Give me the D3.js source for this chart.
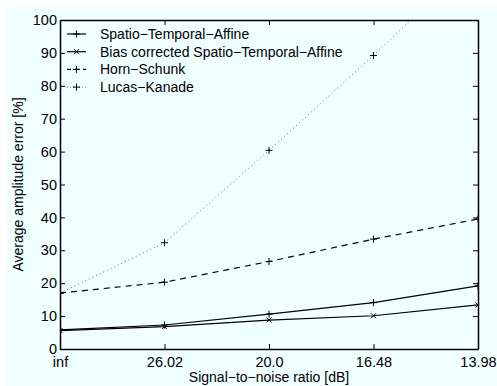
<!DOCTYPE html>
<html lang="en">
<head>
<meta charset="UTF-8">
<title>Average amplitude error</title>
<script src="https://cdn.jsdelivr.net/npm/d3@7"></script>
<style>
    body { margin: 0; background: #fff; }
    svg text { font-family: "Liberation Sans", Arial, sans-serif; fill: #000; }
</style>
</head>
<body>
<svg width="497" height="386"></svg>
<script>
    // data
    var snrLabels = ["inf", "26.02", "20.0", "16.48", "13.98"];
    var staValues = [5.8, 7.3, 10.6, 14.1, 19.2];
    var biasValues = [5.6, 6.8, 8.8, 10.1, 13.4];
    var hornValues = [17.0, 20.3, 26.6, 33.4, 39.5];
    var lucasValues = [17.0, 32.3, 60.4, 89.2, 119.5];
    var yTicks = [0, 10, 20, 30, 40, 50, 60, 70, 80, 90, 100];

    var series = [
        {name: "Spatio\u2212Temporal\u2212Affine", values: staValues, dash: null, marker: "plus"},
        {name: "Bias corrected Spatio\u2212Temporal\u2212Affine", values: biasValues, dash: null, marker: "cross"},
        {name: "Horn\u2212Schunk", values: hornValues, dash: "6,5", marker: "plus"},
        {name: "Lucas\u2212Kanade", values: lucasValues, dash: "1,3", marker: "plus"}
    ];

    var svg = d3.select("svg");
    svg.append("rect").attr("x", 7).attr("y", 7).attr("width", 490).attr("height", 379).attr("fill", "#f0ffff");

    var marge = {left: 60, right: 478, top: 20, bottom: 349};

    var x = d3.scalePoint().domain(snrLabels).range([marge.left, marge.right]);
    var y = d3.scaleLinear().domain([0, 100]).range([marge.bottom, marge.top]);

    svg.append("clipPath").attr("id", "clip").append("rect")
        .attr("x", marge.left).attr("y", marge.top)
        .attr("width", marge.right - marge.left).attr("height", marge.bottom - marge.top);

    // axes with inward ticks
    var tl = 5;
    var axLeft = svg.append("g").attr("transform", "translate(" + marge.left + ",0)")
        .call(d3.axisLeft(y).tickValues(yTicks).tickSizeInner(-tl).tickSizeOuter(0).tickPadding(3));
    var axBottom = svg.append("g").attr("transform", "translate(0," + marge.bottom + ")")
        .call(d3.axisBottom(x).tickSizeInner(-tl).tickSizeOuter(0).tickPadding(8));
    var axRight = svg.append("g").attr("transform", "translate(" + marge.right + ",0)")
        .call(d3.axisRight(y).tickValues(yTicks).tickSizeInner(-tl).tickSizeOuter(0).tickFormat(""));
    var axTop = svg.append("g").attr("transform", "translate(0," + marge.top + ")")
        .call(d3.axisTop(x).tickSizeInner(-tl).tickSizeOuter(0).tickFormat(""));

    [axLeft, axBottom, axRight, axTop].forEach(function (g) {
        g.selectAll("path").attr("stroke", "#000").attr("stroke-width", 1.5);
        g.selectAll("line").attr("stroke", "#000").attr("stroke-width", 1);
        g.selectAll("text").style("font-size", "14.5px").attr("fill", "#000");
    });

    function drawMarker(g, type, cx, cy) {
        var s = 3.5;
        var p = type === "plus"
            ? "M" + (cx - s) + "," + cy + "H" + (cx + s) + "M" + cx + "," + (cy - s) + "V" + (cy + s)
            : "M" + (cx - 2.5) + "," + (cy - 2.5) + "L" + (cx + 2.5) + "," + (cy + 2.5) +
              "M" + (cx - 2.5) + "," + (cy + 2.5) + "L" + (cx + 2.5) + "," + (cy - 2.5);
        g.append("path").attr("d", p).attr("stroke", "#000").attr("stroke-width", 1).attr("fill", "none");
    }

    var line = d3.line().x(function (d, i) { return x(snrLabels[i]); }).y(function (d) { return y(d); });
    var plot = svg.append("g").attr("clip-path", "url(#clip)");

    series.forEach(function (s) {
        var dotted = s.dash === "1,3";
        plot.append("path").datum(s.values)
            .attr("d", line)
            .attr("fill", "none")
            .attr("stroke", dotted ? "#666" : "#000")
            .attr("stroke-width", dotted ? 1 : 1.2)
            .attr("stroke-dasharray", s.dash);
        s.values.forEach(function (v, i) {
            drawMarker(plot, s.marker, x(snrLabels[i]), y(v));
        });
    });

    // legend
    var legend = svg.append("g");
    series.forEach(function (s, i) {
        var ly = 34 + i * 17.7;
        var dotted = s.dash === "1,3";
        legend.append("line").attr("x1", 67).attr("x2", 86).attr("y1", ly).attr("y2", ly)
            .attr("stroke", dotted ? "#666" : "#000").attr("stroke-width", dotted ? 1 : 1.2)
            .attr("stroke-dasharray", s.dash ? (dotted ? "1,2" : "4,4") : null)
            .attr("stroke-dashoffset", s.dash && !dotted ? 0 : null);
        drawMarker(legend, s.marker, 76.5, ly);
        legend.append("text").attr("x", 100).attr("y", ly).attr("dy", "0.36em")
            .style("font-size", "14px").text(s.name);
    });

    svg.append("text").attr("x", marge.left + (marge.right - marge.left) / 2).attr("y", 382)
        .attr("text-anchor", "middle").style("font-size", "14px").text("Signal\u2212to\u2212noise ratio [dB]");
    svg.append("text").attr("transform", "translate(23," + (marge.top + (marge.bottom - marge.top) / 2) + ") rotate(-90)")
        .attr("text-anchor", "middle").style("font-size", "14px").text("Average amplitude error [%]");
</script>
</body>
</html>
